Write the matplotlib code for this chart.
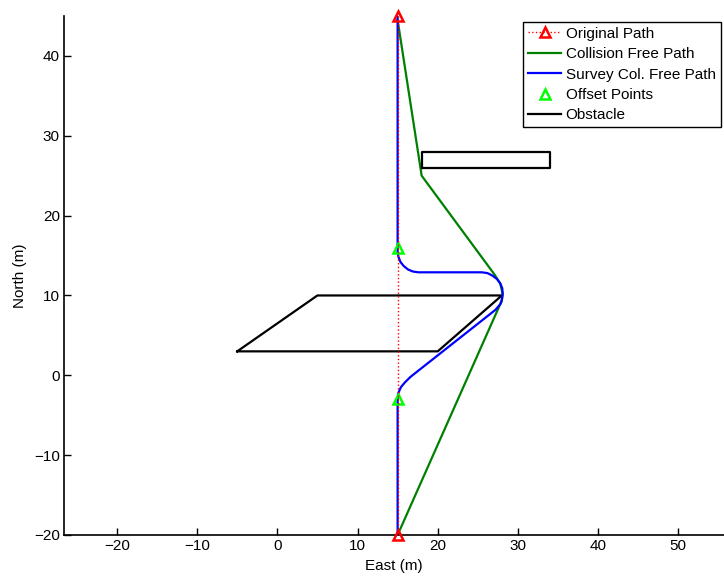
import matplotlib
matplotlib.use("Agg")
import matplotlib.pyplot as plt

plt.rcParams['font.family'] = ['Liberation Sans', 'DejaVu Sans']

# original straight path
orig_x = [15, 15]
orig_y = [45, -20]

# collision free path
cf_x = [15, 18.0, 27.1, 27.4, 27.8, 28.1, 28.0, 27.7, 15]
cf_y = [44.5, 25.0, 12.6, 12.1, 11.5, 10.2, 9.3, 8.7, -20]

# survey collision free path
sv_x = [15, 15, 15.1, 15.35, 15.75, 16.3, 16.9, 17.6, 25.5, 26.2, 26.8, 27.4,
        27.8, 28.05, 28.1, 28.0, 27.8, 27.2, 16.6, 15.9, 15.4, 15.1, 15, 15]
sv_y = [45, 15.5, 14.85, 14.2, 13.7, 13.25, 13.0, 12.9, 12.9, 12.8, 12.5, 12.05,
        11.5, 10.9, 10.2, 9.5, 8.9, 8.2, -0.2, -0.9, -1.5, -2.2, -3, -20]

# offset points
off_x = [15, 15]
off_y = [16, -3]

# obstacles
obs1_x = [18, 34, 34, 18, 18]
obs1_y = [26, 26, 28, 28, 26]
obs2_x = [-5, 5, 28, 20, -5]
obs2_y = [3, 10, 10, 3, 3]

fig = plt.figure(figsize=(7.24, 5.8), dpi=100)
ax = fig.add_axes([0.0884, 0.0776, 0.9116, 0.8948])

ax.plot(orig_x, orig_y, ':', color='#FF0000', lw=1, marker='^', ms=7,
        mfc='none', mec='#FF0000', mew=1.8, label='Original Path', zorder=5,
        clip_on=False)
ax.plot(cf_x, cf_y, color='#008000', lw=1.6, label='Collision Free Path', zorder=2)
ax.plot(sv_x, sv_y, color='#0000FF', lw=1.6, label='Survey Col. Free Path', zorder=2.5)
ax.plot(off_x, off_y, ls='none', marker='^', ms=7, mfc='none', mec='#00FF00',
        mew=1.8, label='Offset Points', zorder=4)
ax.plot(obs1_x, obs1_y, color='black', lw=1.6, label='Obstacle')
ax.plot(obs2_x, obs2_y, color='black', lw=1.6)

ax.set_xlim(-26.6, 55.7)
ax.set_ylim(-20, 45)
ax.set_xticks(range(-20, 51, 10))
ax.set_yticks(range(-20, 41, 10))
ax.tick_params(direction='in', length=5, width=1, labelsize=11, pad=3)
for s in ['top', 'right']:
    ax.spines[s].set_visible(False)
for s in ['left', 'bottom']:
    ax.spines[s].set_linewidth(1.2)
ax.set_xlabel('East (m)', fontsize=11, labelpad=4)
ax.set_ylabel('North (m)', fontsize=11, labelpad=5)

leg = ax.legend(loc='upper right', bbox_to_anchor=(720.7 / 724, 1 - 21.7 / 580),
                bbox_transform=fig.transFigure, fontsize=11, frameon=True,
                fancybox=False, edgecolor='black', framealpha=1,
                handlelength=2.15, handletextpad=0.3, labelspacing=0.42,
                borderpad=0.33, borderaxespad=0)
leg.get_frame().set_linewidth(1)

fig.savefig('out.png', dpi=100)
